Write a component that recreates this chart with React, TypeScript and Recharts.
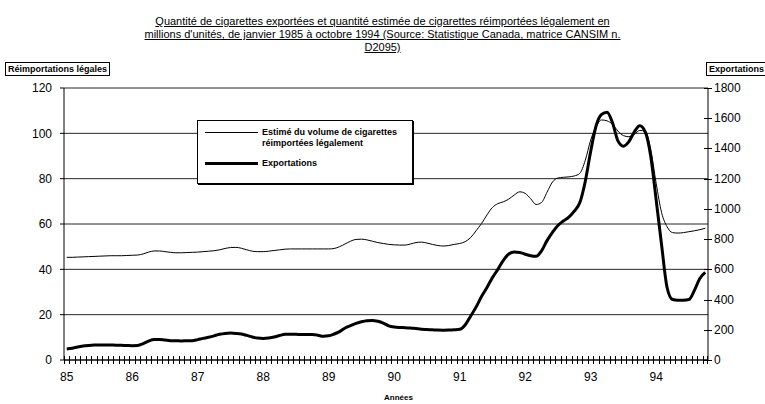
import React from "react";
import { LineChart, Line, XAxis, YAxis, CartesianGrid } from "recharts";

// years on the category axis (Jan 1985 .. Oct 1994)
const YEARS = ["85", "86", "87", "88", "89", "90", "91", "92", "93", "94"];
const MONTHS_IN_LAST_YEAR = 10;

// estimated legal re-imports (left axis, millions)
const reimport = [
  45.3, 45.3, 45.4, 45.5, 45.6, 45.7, 45.8, 45.9, 46.0, 46.0, 46.0, 46.1,
  46.2, 46.3, 46.8, 47.6, 48.1, 48.1, 47.8, 47.5, 47.3, 47.3, 47.4, 47.5,
  47.6, 47.8, 48.0, 48.2, 48.6, 49.2, 49.6, 49.7, 49.3, 48.6, 48.0, 47.8,
  47.8, 48.0, 48.3, 48.6, 48.9, 49.0, 49.0, 49.0, 49.0, 49.0, 49.0, 49.0,
  49.0, 49.2, 50.0, 51.2, 52.4, 53.2, 53.3, 53.0, 52.4, 51.8, 51.4, 51.0,
  50.8, 50.7, 50.7, 51.2, 51.8, 52.0, 51.6, 51.0, 50.5, 50.3, 50.5, 51.0,
  51.4, 52.2, 54.0, 57.0, 60.2, 64.0, 67.3, 69.0, 69.8, 71.0, 72.8, 74.2,
  73.5, 71.2, 68.6, 69.5, 74.0, 78.5, 80.3, 80.6, 80.8, 81.2, 82.3, 88.0,
  97.0, 103.0, 105.9, 105.5, 104.0, 101.0, 99.0, 98.5, 99.5, 101.3, 100.9, 93.0,
  78.0, 65.0, 58.8, 56.2, 56.0, 56.2, 56.6, 57.0, 57.5, 58.1,
];

// exports (right axis, millions)
const exportsM = [
  73, 78, 86, 92, 96, 99, 100, 100, 99, 98, 97, 96,
  95, 96, 108, 125, 136, 136, 132, 128, 127, 126, 127, 128,
  135, 143, 150, 160, 170, 176, 178, 176, 172, 163, 152, 145,
  143, 146, 152, 162, 170, 171, 170, 169, 168, 168, 164, 157,
  160, 172, 188, 212, 228, 242, 253, 260, 262, 256, 244, 226,
  218, 215, 214, 212, 208, 204, 202, 200, 198, 197, 198, 200,
  203, 232, 290, 350, 420, 480, 545, 600, 660, 702, 715, 712,
  700, 690, 686, 722, 790, 845, 890, 920, 945, 985, 1040, 1180,
  1380, 1550, 1625, 1640, 1570, 1450, 1415, 1445, 1510, 1550, 1510, 1350,
  1060, 760, 480, 400, 395, 395, 400, 460, 540, 580,
];

const LEFT_TICKS = [0, 20, 40, 60, 80, 100, 120];
const RIGHT_TICKS = [0, 200, 400, 600, 800, 1000, 1200, 1400, 1600, 1800];

const months: string[] = [];
YEARS.forEach((yr, yi) => {
  const n = yi === YEARS.length - 1 ? MONTHS_IN_LAST_YEAR : 12;
  for (let m = 1; m <= n; m++) months.push(`${yr}-${m}`);
});

const data = months.map((month, i) => ({
  month,
  reimport: reimport[i],
  exports: exportsM[i],
}));

const FONT = "'Liberation Sans', Arial, sans-serif";
const HALF_STEP = 644 / months.length / 2;
const X_TICK_SIZE = 4;

// month tick marks sit between categories and cross the axis
const XTick = (props: any) => {
  const { x, y, payload, index } = props;
  const [yr, m] = String(payload.value).split("-");
  const axisY = y - X_TICK_SIZE;
  return (
    <g>
      <rect x={Math.round(x - HALF_STEP)} y={axisY - 4} width={1} height={8} fill="#000" />
      {index === months.length - 1 && (
        <rect x={Math.round(x + HALF_STEP) - 1} y={axisY - 4} width={1} height={8} fill="#000" />
      )}
      {m === "1" && (
        <text x={x} y={axisY + 21} textAnchor="middle" fontSize={12} fontFamily={FONT} fill="#000">
          {yr}
        </text>
      )}
    </g>
  );
};

const RightTick = (props: any) => {
  const { x, y, payload } = props;
  return (
    <g>
      <rect x={x - 4} y={Math.round(y)} width={8} height={1} fill="#000" />
      <text x={x + 6} y={y + 4} fontSize={12} fontFamily={FONT} fill="#000">
        {payload.value}
      </text>
    </g>
  );
};

const legendItems = [
  { label: ["Estimé du volume de cigarettes", "réimportées légalement"], width: 1 },
  { label: ["Exportations"], width: 3 },
];

const boxLabel: React.CSSProperties = {
  position: "absolute",
  border: "1px solid #000",
  background: "#fff",
  fontSize: 9,
  fontWeight: 600,
  lineHeight: "12px",
  padding: "0 2px",
  whiteSpace: "nowrap",
};

export default function App() {
  return (
    <div
      style={{
        position: "absolute",
        left: 0,
        top: 0,
        width: 765,
        height: 404,
        background: "#fff",
        fontFamily: FONT,
        overflow: "hidden",
      }}
    >
      <LineChart
        width={765}
        height={404}
        data={data}
        margin={{ top: 88, right: 0, left: 0, bottom: 14 }}
      >
        <CartesianGrid vertical={false} yAxisId="left" stroke="#000" strokeOpacity={0.85} />
        <XAxis
          dataKey="month"
          interval={0}
          tickSize={X_TICK_SIZE}
          tickMargin={0}
          tickLine={false}
          axisLine={{ stroke: "#000" }}
          padding={{ left: HALF_STEP, right: HALF_STEP }}
          height={30}
          tick={<XTick />}
        />
        <YAxis
          yAxisId="left"
          width={64}
          domain={[0, 120]}
          ticks={LEFT_TICKS}
          tickSize={4}
          tickMargin={8}
          axisLine={{ stroke: "#000" }}
          tickLine={{ stroke: "#000" }}
          tick={{ fill: "#000", fontSize: 12, fontFamily: FONT }}
        />
        <YAxis
          yAxisId="right"
          orientation="right"
          width={57}
          domain={[0, 1800]}
          ticks={RIGHT_TICKS}
          tickSize={0}
          tickMargin={0}
          tickLine={false}
          axisLine={{ stroke: "#000" }}
          tick={<RightTick />}
        />
        <Line
          yAxisId="left"
          dataKey="reimport"
          type="monotone"
          stroke="#000"
          strokeWidth={1}
          dot={false}
          isAnimationActive={false}
        />
        <Line
          yAxisId="right"
          dataKey="exports"
          type="monotone"
          stroke="#000"
          strokeWidth={3}
          dot={false}
          isAnimationActive={false}
        />
      </LineChart>

      <div
        style={{
          position: "absolute",
          top: 15,
          left: 0,
          width: 765,
          textAlign: "center",
          fontSize: 11,
          lineHeight: "13px",
          textDecoration: "underline",
        }}
      >
        Quantité de cigarettes exportées et quantité estimée de cigarettes réimportées légalement en
        <br />
        millions d'unités, de janvier 1985 à octobre 1994 (Source: Statistique Canada, matrice CANSIM n.
        <br />
        D2095)
      </div>

      <div style={{ ...boxLabel, left: 5, top: 62 }}>Réimportations légales</div>
      <div style={{ ...boxLabel, left: 706, top: 62 }}>Exportations</div>
      <div
        style={{
          position: "absolute",
          left: 0,
          width: 797,
          top: 393,
          textAlign: "center",
          fontSize: 8,
          fontWeight: 700,
        }}
      >
        Années
      </div>

      <div
        style={{
          position: "absolute",
          left: 197,
          top: 120,
          width: 214,
          height: 62,
          border: "1px solid #000",
          boxShadow: "1px 1px 0 #000",
          background: "#fff",
          fontSize: 9,
          fontWeight: 600,
          lineHeight: "11px",
        }}
      >
        {legendItems.map((item, i) => (
          <div
            key={i}
            style={{
              position: "absolute",
              left: 7,
              top: i === 0 ? 6 : 37,
              display: "flex",
              alignItems: "flex-start",
            }}
          >
            <div
              style={{
                width: 53,
                height: item.width,
                background: "#000",
                marginTop: 5 - Math.floor(item.width / 2),
                marginRight: 4,
              }}
            />
            <div>
              {item.label.map((l) => (
                <div key={l}>{l}</div>
              ))}
            </div>
          </div>
        ))}
      </div>
    </div>
  );
}
